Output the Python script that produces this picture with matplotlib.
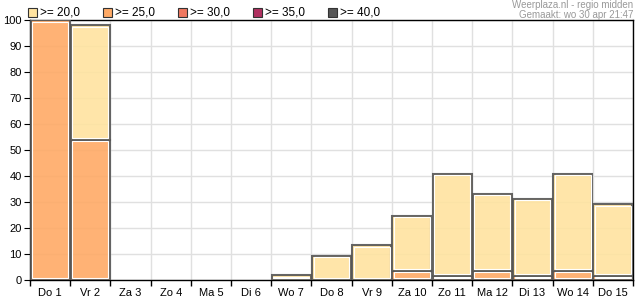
import matplotlib
matplotlib.use("Agg")
import matplotlib.pyplot as plt
from matplotlib.patches import Rectangle

plt.rcParams['font.family'] = ['Liberation Sans', 'DejaVu Sans']

days = ["Do 1", "Vr 2", "Za 3", "Zo 4", "Ma 5", "Di 6", "Wo 7", "Do 8",
        "Vr 9", "Za 10", "Zo 11", "Ma 12", "Di 13", "Wo 14", "Do 15"]
# share of members with >= 25,0 (bottom part) and total >= 20,0
ge25 = [100, 54, 0, 0, 0, 0, 0, 0, 0, 3.6, 1.7, 3.6, 1.7, 3.6, 1.7]
ge20 = [100, 98, 0, 0, 0, 0, 1.8, 9.3, 13.3, 24.7, 40.8, 33.2, 31.3, 40.8, 29.1]

legend_labels = [">= 20,0", ">= 25,0", ">= 30,0", ">= 35,0", ">= 40,0"]
legend_colors = ["#FFE3A0", "#FFAA66", "#F07860", "#B03060", "#555555"]

fig = plt.figure(figsize=(6.35, 3.0), dpi=100)
ax = fig.add_axes([30 / 635, 20 / 300, 603 / 635, 260 / 300])

w = 0.97


def draw_bar(x, bottom, height, color):
    if height <= 0:
        return
    ax.bar(x, height, width=w, bottom=bottom, color=color, alpha=0.9,
           edgecolor="#555555", linewidth=1.5, zorder=3)
    # thin white highlight just inside the dark border
    ax.add_patch(Rectangle((x - w / 2 + 0.04, bottom + 0.6), w - 0.08,
                           max(height - 1.2, 0), fill=False,
                           edgecolor="white", linewidth=0.8, zorder=4))


for i in range(len(days)):
    draw_bar(i, 0, ge25[i], legend_colors[1])
    draw_bar(i, ge25[i], ge20[i] - ge25[i], legend_colors[0])

ax.set_xlim(-0.5, len(days) - 0.5)
ax.set_ylim(0, 100)
ax.set_yticks(range(0, 101, 10))
ax.set_xticks(range(len(days)))
ax.set_xticklabels(days)
ax.set_xticks([i + 0.5 for i in range(-1, len(days))], minor=True)
ax.tick_params(axis="x", which="major", length=0, labelsize=8, pad=6)
ax.tick_params(axis="x", which="minor", length=4, width=1, color="black")
ax.tick_params(axis="y", length=4, labelsize=8, pad=2)
ax.grid(True, which="minor", axis="x", color="#E0E0E0", linewidth=1, zorder=0)
ax.grid(True, which="major", axis="y", color="#E0E0E0", linewidth=1, zorder=0)
ax.set_axisbelow(True)
for s in ax.spines.values():
    s.set_color("black")
    s.set_linewidth(1)

# legend row along the top
for k, (lab, col) in enumerate(zip(legend_labels, legend_colors)):
    x0 = 28 + 75 * k
    fig.patches.append(Rectangle((x0 / 635, 1 - 17 / 300), 9 / 635, 9 / 300,
                                 transform=fig.transFigure, facecolor=col,
                                 edgecolor="#333333", linewidth=0.8))
    fig.text((x0 + 12) / 635, 1 - 12.5 / 300, lab, fontsize=8.5,
             va="center", ha="left")

fig.text(633 / 635, 1 - 5 / 300, "Weerplaza.nl - regio midden", fontsize=7,
         color="#999999", ha="right", va="center")
fig.text(633 / 635, 1 - 15 / 300, "Gemaakt: wo 30 apr 21:47", fontsize=7,
         color="#999999", ha="right", va="center")

fig.savefig("out.png", dpi=100)
